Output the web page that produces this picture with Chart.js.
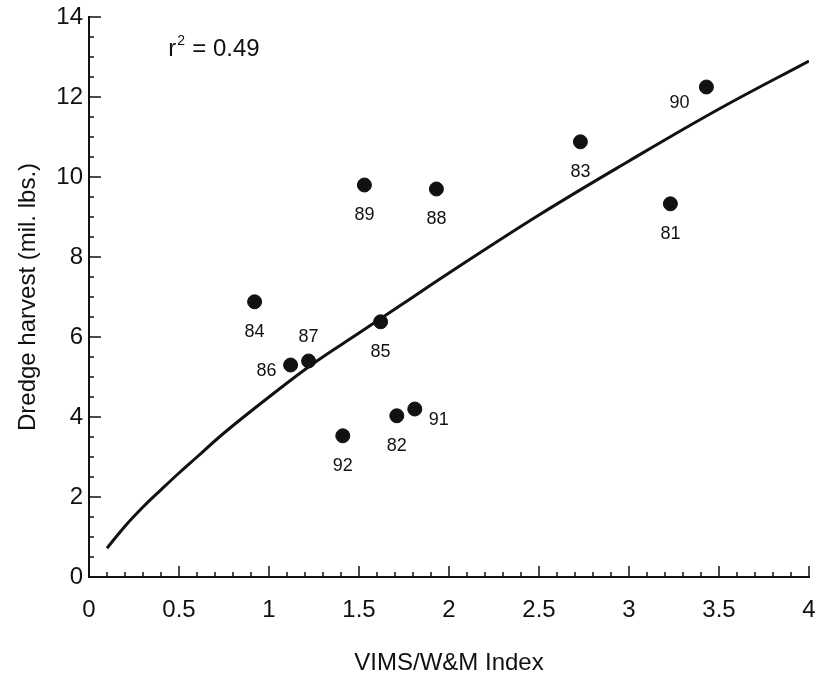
<!DOCTYPE html>
<html>
<head>
<meta charset="utf-8">
<script src="https://cdn.jsdelivr.net/npm/chart.js@4.4.1/dist/chart.umd.min.js"></script>
<style>
  html, body { margin: 0; padding: 0; background: #fff; }
  #wrap { width: 817px; height: 678px; position: relative; }
</style>
</head>
<body>
<div id="wrap"><canvas id="chart" width="817" height="678"></canvas></div>
<script>
// Survey index vs. dredge harvest, one point per year
const years      = ['81', '82', '83', '84', '85', '86', '87', '88', '89', '90', '91', '92'];
const indexVals  = [3.23, 1.71, 2.73, 0.92, 1.62, 1.12, 1.22, 1.93, 1.53, 3.43, 1.81, 1.41];
const harvest    = [9.33, 4.03, 10.88, 6.88, 6.38, 5.3, 5.4, 9.7, 9.8, 12.25, 4.2, 3.53];
// where each year label sits relative to its dot
const labelPlace = ['below', 'below', 'below', 'below', 'below', 'left', 'above', 'below', 'below', 'leftBelow', 'right', 'below'];

// fitted curve
const fitX = [0.1, 0.2, 0.3, 0.4, 0.5, 0.6, 0.75, 1, 1.25, 1.5, 1.75, 2, 2.5, 3, 3.5, 4];
const fitY = [0.72, 1.27, 1.75, 2.18, 2.6, 3.0, 3.6, 4.5, 5.35, 6.1, 6.85, 7.6, 9.05, 10.4, 11.7, 12.9];

const xTicks = [0, 0.5, 1, 1.5, 2, 2.5, 3, 3.5, 4];
const yTicks = [0, 2, 4, 6, 8, 10, 12, 14];
const rSquared = '0.49';

const FONT = "'Liberation Sans', Arial, Helvetica, sans-serif";
const INK = '#111';

// Offsets for the year labels
const placeOffsets = {
  below: [0, 30],
  above: [0, -24],
  left: [-24, 6],
  right: [24, 11],
  leftBelow: [-27, 16]
};

// Inward tick marks (minor + major) like the original plot
const inwardTicks = {
  id: 'inwardTicks',
  afterDatasetsDraw(chart) {
    const ctx = chart.ctx;
    const xs = chart.scales.x;
    const ys = chart.scales.y;
    const area = chart.chartArea;
    ctx.save();
    ctx.strokeStyle = INK;
    ctx.lineWidth = 1.5;
    // x axis: minor every 0.1, major every 0.5
    for (let i = 1; i <= 40; i++) {
      const px = xs.getPixelForValue(i / 10);
      const len = (i % 5 === 0) ? 11 : 5;
      ctx.beginPath();
      ctx.moveTo(px, area.bottom);
      ctx.lineTo(px, area.bottom - len);
      ctx.stroke();
    }
    // y axis: minor every 0.5, major every 2
    for (let i = 1; i <= 28; i++) {
      const py = ys.getPixelForValue(i / 2);
      const len = (i % 4 === 0) ? 12 : 5;
      ctx.beginPath();
      ctx.moveTo(area.left, py);
      ctx.lineTo(area.left + len, py);
      ctx.stroke();
    }
    ctx.restore();
  }
};

// Year labels next to each dot, plus the r-squared note
const yearLabels = {
  id: 'yearLabels',
  afterDatasetsDraw(chart) {
    const ctx = chart.ctx;
    const meta = chart.getDatasetMeta(1);
    ctx.save();
    ctx.fillStyle = INK;
    ctx.font = '18px ' + FONT;
    ctx.textAlign = 'center';
    ctx.textBaseline = 'middle';
    meta.data.forEach((pt, i) => {
      const off = placeOffsets[labelPlace[i]];
      ctx.fillText(years[i], pt.x + off[0], pt.y + off[1]);
    });

    const xs = chart.scales.x;
    const ys = chart.scales.y;
    const tx = xs.getPixelForValue(0.44);
    const ty = ys.getPixelForValue(13.2);
    ctx.textAlign = 'left';
    ctx.font = '24px ' + FONT;
    ctx.fillText('r', tx, ty);
    const rw = ctx.measureText('r').width;
    ctx.font = '14px ' + FONT;
    ctx.fillText('2', tx + rw + 1, ty - 8);
    ctx.font = '24px ' + FONT;
    ctx.fillText('= ' + rSquared, tx + rw + 16, ty);
    ctx.restore();
  }
};

new Chart(document.getElementById('chart'), {
  type: 'scatter',
  data: {
    datasets: [
      {
        type: 'line',
        label: 'Fit',
        data: fitX.map((x, i) => ({ x: x, y: fitY[i] })),
        borderColor: INK,
        borderWidth: 3,
        pointRadius: 0,
        tension: 0.4,
        fill: false
      },
      {
        label: 'Years',
        data: indexVals.map((x, i) => ({ x: x, y: harvest[i] })),
        backgroundColor: INK,
        borderColor: INK,
        pointRadius: 7,
        pointHoverRadius: 7
      }
    ]
  },
  options: {
    responsive: false,
    animation: false,
    layout: { padding: { top: 17, right: 7, left: 0, bottom: 0 } },
    plugins: {
      legend: { display: false },
      tooltip: { enabled: false }
    },
    scales: {
      x: {
        type: 'linear',
        min: 0,
        max: 4,
        afterBuildTicks: (scale) => { scale.ticks = xTicks.map(v => ({ value: v })); },
        afterFit: (scale) => {
          scale.height = 101;
          scale.paddingLeft = 0;
          scale.paddingRight = 0;
        },
        grid: { display: false, drawTicks: false },
        border: { display: true, color: INK, width: 2 },
        ticks: {
          color: INK,
          font: { family: FONT, size: 24 },
          padding: 19,
          maxRotation: 0,
          callback: (v) => String(v)
        },
        title: {
          display: true,
          text: 'VIMS/W&M Index',
          color: INK,
          font: { family: FONT, size: 24 },
          padding: { top: 14, bottom: 0 }
        }
      },
      y: {
        type: 'linear',
        min: 0,
        max: 14,
        afterBuildTicks: (scale) => { scale.ticks = yTicks.map(v => ({ value: v })); },
        afterFit: (scale) => {
          scale.width = 89;
          scale.paddingTop = 0;
          scale.paddingBottom = 0;
        },
        grid: { display: false, drawTicks: false },
        border: { display: true, color: INK, width: 2 },
        ticks: {
          color: INK,
          font: { family: FONT, size: 24 },
          padding: 6,
          callback: (v) => String(v)
        },
        title: {
          display: true,
          text: 'Dredge harvest (mil. lbs.)',
          color: INK,
          font: { family: FONT, size: 24 },
          padding: { top: 14, bottom: 0 }
        }
      }
    }
  },
  plugins: [inwardTicks, yearLabels]
});
</script>
</body>
</html>
